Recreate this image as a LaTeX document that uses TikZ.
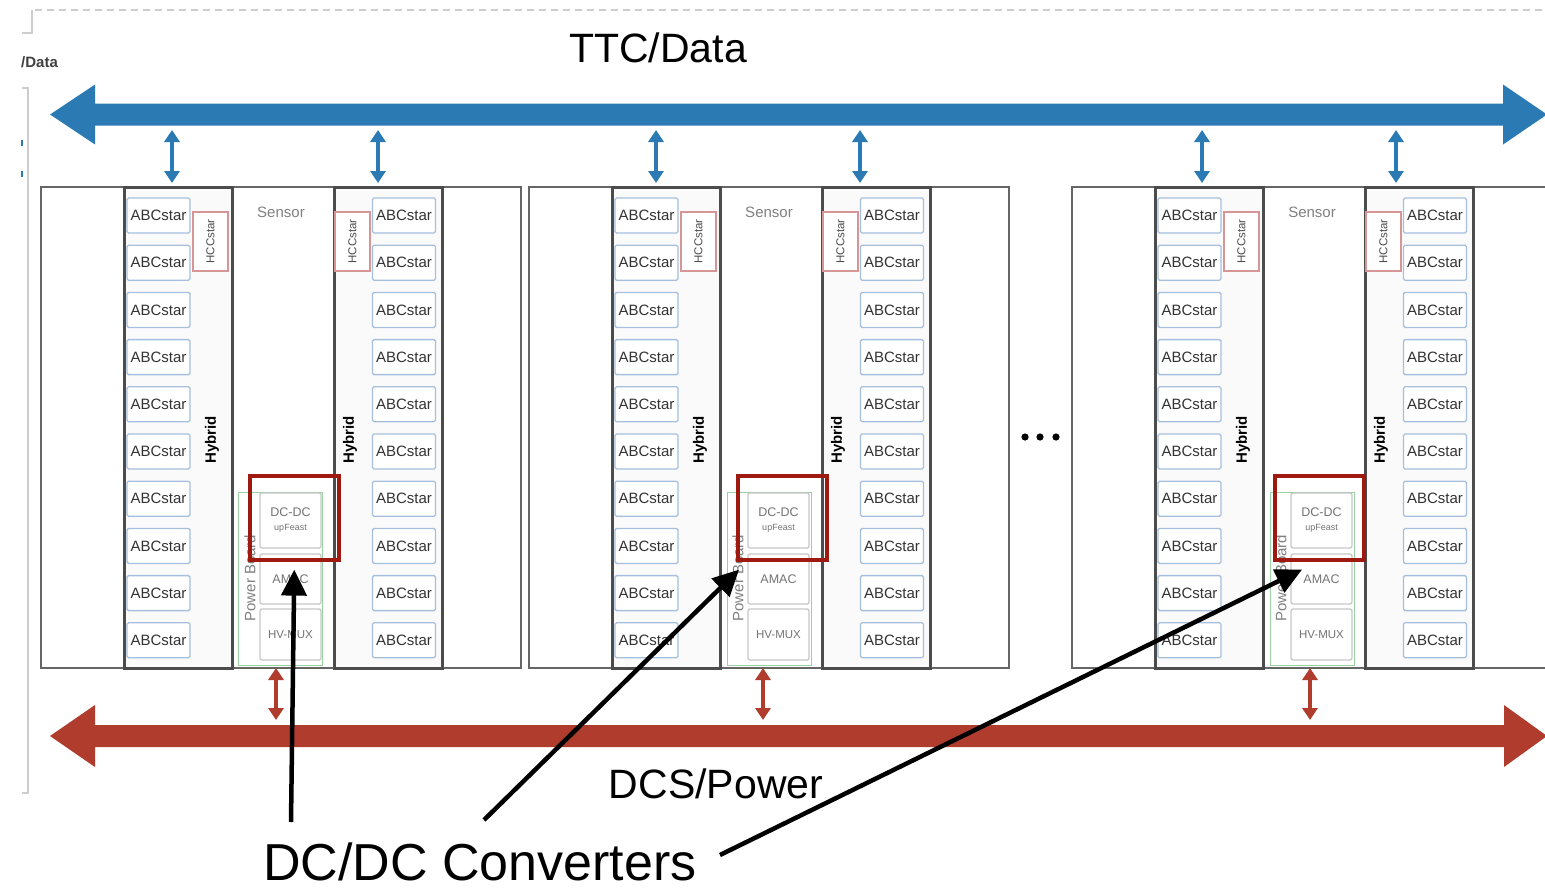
\documentclass[tikz,border=0pt]{standalone}
\usepackage{fontspec}
\setmainfont{Liberation Sans}
\usetikzlibrary{arrows.meta}
\definecolor{ttcblue}{RGB}{44,122,180}
\definecolor{dcsred}{RGB}{176,60,45}
\definecolor{hlred}{RGB}{158,26,16}
\definecolor{abcblue}{RGB}{165,192,222}
\definecolor{hccred}{RGB}{214,150,150}
\definecolor{pbgreen}{RGB}{155,208,160}
\definecolor{slidegrey}{RGB}{205,205,205}
\tikzset{
  module/.style={draw=black!60, line width=2.4pt, fill=white, inner sep=0pt, anchor=north west, minimum width=480pt, minimum height=481pt},
  hybrid/.style={draw=black!70, line width=2.8pt, fill=black!2, inner sep=0pt, anchor=north west, minimum width=108pt, minimum height=481pt},
  abc/.style={draw=abcblue, line width=1.3pt, fill=white, rounded corners=1.5pt, inner sep=0pt, minimum width=63pt, minimum height=35pt, font=\fontsize{15pt}{15pt}\selectfont, text=black!80},
  hcc/.style={draw=hccred, line width=1.1pt, fill=white, inner sep=0pt, minimum width=35pt, minimum height=59pt},
  hcctxt/.style={rotate=90, font=\fontsize{11.5pt}{12pt}\selectfont, text=black!70, inner sep=0pt},
  hyblabel/.style={rotate=90, font=\fontsize{15pt}{15pt}\selectfont\bfseries, inner sep=0pt},
  sensorlabel/.style={font=\fontsize{15pt}{15pt}\selectfont, text=black!50, inner sep=0pt},
  board/.style={draw=pbgreen, line width=1.1pt, inner sep=0pt, anchor=north west, minimum width=84pt, minimum height=173pt},
  boardlabel/.style={rotate=90, font=\fontsize{15pt}{15pt}\selectfont, text=black!50, inner sep=0pt},
  chip/.style={draw=black!22, line width=1.3pt, rounded corners=2pt, fill=white, inner sep=0pt, minimum width=61pt, text=black!55, font=\fontsize{12.5pt}{13pt}\selectfont, align=center},
  hl/.style={draw=hlred, line width=3.6pt, inner sep=0pt, anchor=north west, minimum width=89pt, minimum height=84pt},
  bluelink/.style={draw=ttcblue, line width=4pt, {Triangle[length=12pt,width=15pt]}-{Triangle[length=12pt,width=15pt]}},
  redlink/.style={draw=dcsred, line width=4pt, {Triangle[length=12pt,width=15pt]}-{Triangle[length=12pt,width=15pt]}},
  annot/.style={draw=black, line width=4.5pt, -{Triangle[length=26pt,width=25pt]}},
  bigtitle/.style={font=\fontsize{41pt}{41pt}\selectfont, inner sep=0pt, anchor=base},
  frameline/.style={draw=slidegrey, line width=1.6pt}
}
\begin{document}
\begin{tikzpicture}[x=1pt,y=-1pt]
\useasboundingbox (0,0) rectangle (1545,891);
\fill[white] (0,0) rectangle (1545,891);

% slide remnants
\draw[frameline, dash pattern=on 7pt off 5pt] (35,10) -- (1545,10);
\draw[frameline] (32,10) -- (32,33) -- (22,33);
\draw[frameline] (22,88) -- (28,88) -- (28,793) -- (22,793);
\node[font=\fontsize{15pt}{15pt}\selectfont\bfseries, text=black!75, inner sep=0pt, anchor=base west] (dataleft) at (21,68) {/Data};
\fill[ttcblue] (21,140) rectangle (23,146);
\fill[ttcblue] (21,171) rectangle (23,177);

% modules
\foreach \m/\x/\bl/\br/\ra/\hx/\pb in {1/40/132/338/236/208/198, 2/528/128/332/235/208/199, 3/1071/131/325/239/202/199} {
  \node[module] (mod\m) at (\x,186) {};
  \node[hybrid] (hybL\m) at ({\x+83},186) {};
  \node[hybrid] (hybR\m) at ({\x+293},186) {};
  \foreach \i in {0,...,9} {
    \node[abc] (abcL\m-\i) at ({\x+118.5},{215.5+47.2*\i}) {ABCstar};
    \node[abc] (abcR\m-\i) at ({\x+364},{215.5+47.2*\i}) {ABCstar};
  }
  \node[hcc] (hccL\m) at ({\x+170.5},241.5) {};
  \node[hcctxt] at (hccL\m) {HCCstar};
  \node[hcc] (hccR\m) at ({\x+312.5},241.5) {};
  \node[hcctxt] at (hccR\m) {HCCstar};
  \node[hyblabel] (hybtxtL\m) at ({\x+172},440) {Hybrid};
  \node[hyblabel] (hybtxtR\m) at ({\x+310},440) {Hybrid};
  \node[sensorlabel] (sensor\m) at ({\x+241},212) {Sensor};
  \node[board] (board\m) at ({\x+\pb},492) {};
  \node[boardlabel] (boardtxt\m) at ({\x+210},578) {Power Board};
  \node[chip, minimum height=55pt] (dcdc\m) at ({\x+250.5},520.5) {DC-DC\\[1pt]{\fontsize{9pt}{9pt}\selectfont upFeast}};
  \node[chip, minimum height=50pt] (amac\m) at ({\x+250.5},579) {AMAC};
  \node[chip, minimum height=51pt, font=\fontsize{11.5pt}{12pt}\selectfont] (hvmux\m) at ({\x+250.5},634.5) {HV-MUX};
  \node[hl] (hl\m) at ({\x+\hx},474) {};
  % links to buses
  \coordinate (ttcL\m) at ({\x+\bl},130);
  \coordinate (ttcR\m) at ({\x+\br},130);
  \coordinate (topL\m) at ({\x+\bl},183);
  \coordinate (topR\m) at ({\x+\br},183);
  \draw[bluelink] (ttcL\m) -- (topL\m);
  \draw[bluelink] (ttcR\m) -- (topR\m);
  \coordinate (botP\m) at ({\x+\ra},668);
  \coordinate (dcs\m) at ({\x+\ra},720);
  \draw[redlink] (botP\m) -- (dcs\m);
}

% ellipsis between modules
\foreach \k/\dx in {1/1025,2/1040,3/1056} {
  \fill (\dx,437) circle (3.6pt);
}

% buses
\fill[ttcblue] (50,114.5) -- (95,84.5) -- (95,103.5) -- (1503,103.5) -- (1503,84.5) -- (1547,114.5) -- (1503,144.5) -- (1503,125.5) -- (95,125.5) -- (95,144.5) -- cycle;
\fill[dcsred] (50,736) -- (95,705) -- (95,725) -- (1504,725) -- (1504,705) -- (1547,736) -- (1504,767) -- (1504,747) -- (95,747) -- (95,767) -- cycle;
\node[bigtitle] (ttc) at (658,63) {TTC/Data};
\node[bigtitle] (dcs) at (716,798) {DCS/Power};

% annotation
\node[font=\fontsize{52pt}{52pt}\selectfont, inner sep=0pt, anchor=base] (conv) at (480,880) {DC/DC Converters};
\coordinate (s1) at (291,822);
\coordinate (s2) at (484,820);
\coordinate (s3) at (720,855);
\coordinate (t1) at ([yshift=-8pt]hl1.south);
\coordinate (t2) at ([shift={(3pt,-8pt)}]hl2.south west);
\coordinate (t3) at ([shift={(29pt,-8pt)}]hl3.south west);
\draw[annot] (s1) -- (t1);
\draw[annot] (s2) -- (t2);
\draw[annot] (s3) -- (t3);
\end{tikzpicture}
\end{document}
